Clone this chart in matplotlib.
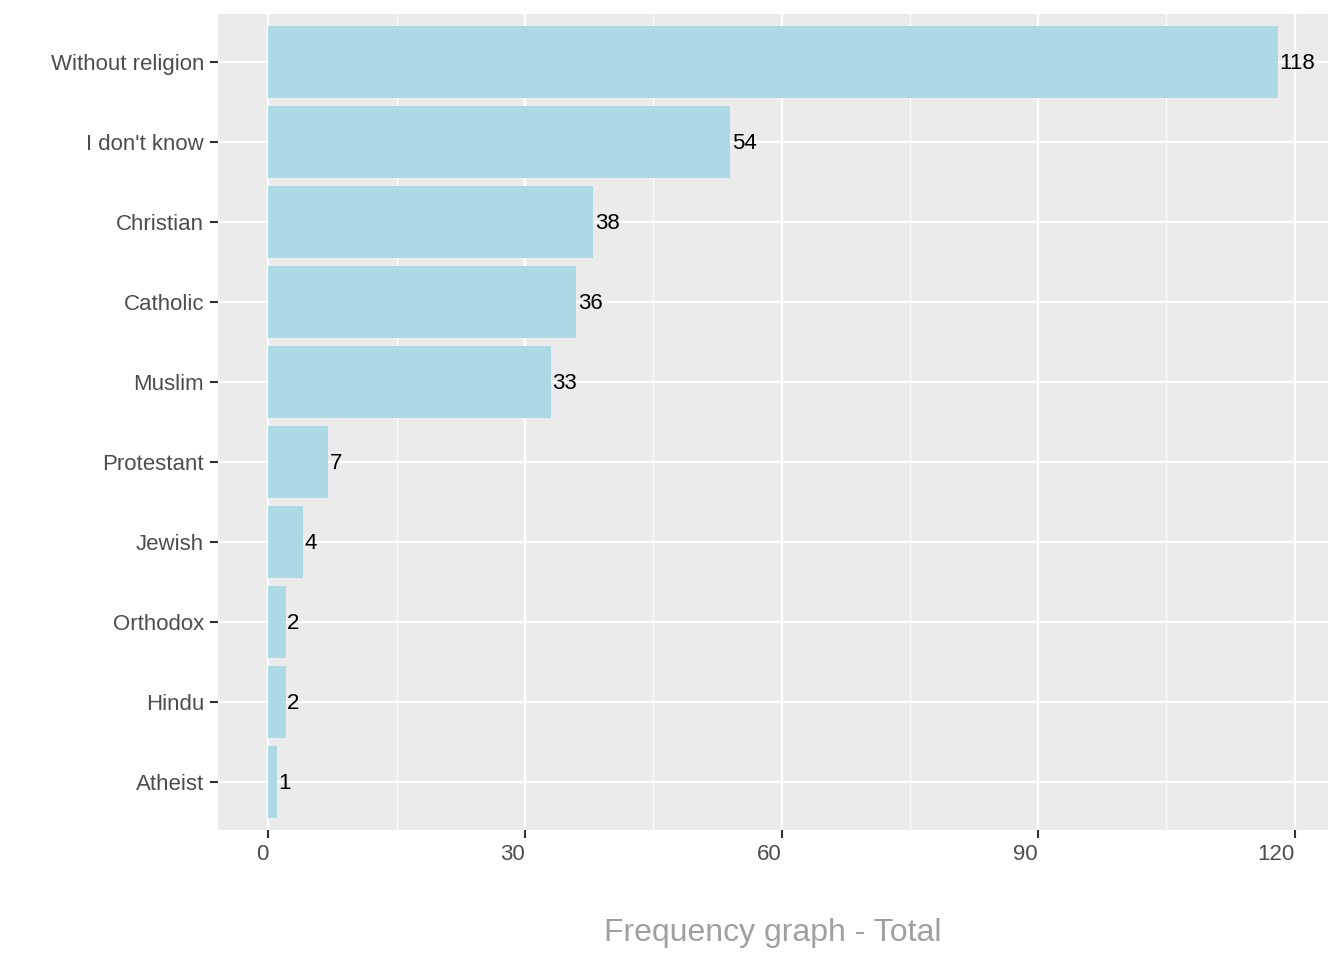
import matplotlib.pyplot as plt
from matplotlib.ticker import MultipleLocator

categories = ["Without religion", "I don't know", "Christian", "Catholic", "Muslim",
              "Protestant", "Jewish", "Orthodox", "Hindu", "Atheist"]
counts = [118, 54, 38, 36, 33, 7, 4, 2, 2, 1]
x_ticks = [0, 30, 60, 90, 120]

plt.rcParams['font.family'] = ['Liberation Sans', 'DejaVu Sans']

fig = plt.figure(figsize=(13.44, 9.6), dpi=100)
# panel placement in pixels: x 218..1328, y 14..830
ax = fig.add_axes([218 / 1344, 1 - 830 / 960, 1110 / 1344, 816 / 960])
ax.set_facecolor('#EBEBEB')

ypos = list(range(len(categories)))
ax.barh(ypos, counts, height=0.9, color='#ADD8E6', zorder=2)
for y, v in zip(ypos, counts):
    ax.text(v + 0.2, y + 0.02, str(v), va='center', ha='left', fontsize=16, color='black', zorder=3)

xmax = max(counts)
ax.set_xlim(-0.05 * xmax, 1.05 * xmax)
ax.set_ylim(len(categories) - 0.4, -0.6)

ax.set_yticks(ypos)
ax.set_yticklabels(categories)
ax.set_xticks(x_ticks)
ax.set_xticklabels([str(t) for t in x_ticks], ha='right')
ax.xaxis.set_minor_locator(MultipleLocator(15))

ax.grid(which='major', color='white', linewidth=1.6, zorder=0)
ax.grid(which='minor', axis='x', color='white', linewidth=0.8, zorder=0)
ax.set_axisbelow(True)
for s in ax.spines.values():
    s.set_visible(False)

ax.tick_params(axis='both', which='major', length=6, width=1.5, color='#333333',
               labelsize=16, labelcolor='#4D4D4D', pad=4)
ax.tick_params(which='minor', length=0)

ax.set_xlabel('Frequency graph - Total', fontsize=23, color='#A0A0A0', labelpad=38)

fig.savefig('out.png', dpi=100)
